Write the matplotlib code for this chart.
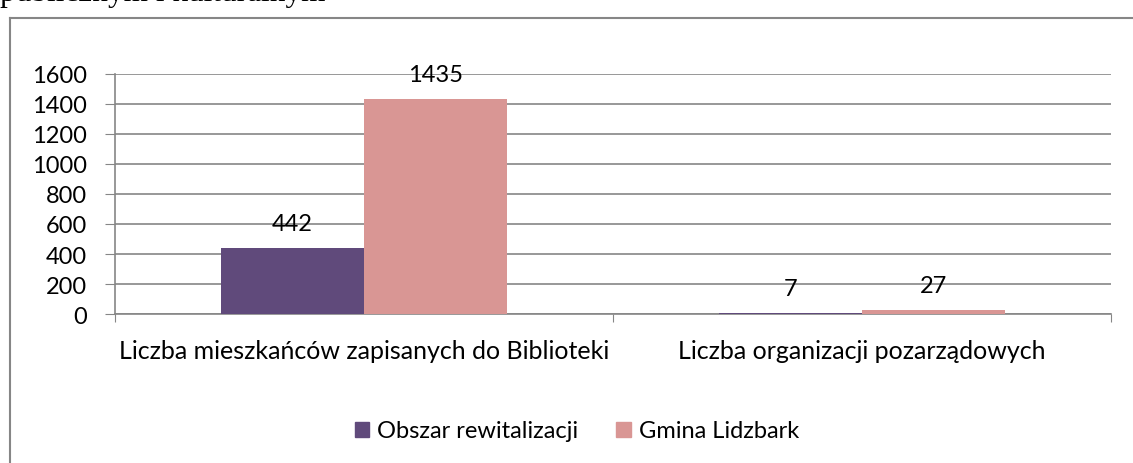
import matplotlib
matplotlib.use("Agg")
import matplotlib.pyplot as plt
from matplotlib.lines import Line2D
from matplotlib.patches import Patch
import numpy as np

categories = ["Liczba mieszkańców zapisanych do Biblioteki", "Liczba organizacji pozarządowych"]
series_names = ["Obszar rewitalizacji", "Gmina Lidzbark"]
obszar = [442, 7]
gmina = [1435, 27]
yticks = [0, 200, 400, 600, 800, 1000, 1200, 1400, 1600]

colors = ["#604A7B", "#D99694"]
grid_c = "#868686"
plt.rcParams['font.family'] = ['Lato', 'DejaVu Sans']
FS = 17

W, H = 1133, 464
fig = plt.figure(figsize=(W/100, H/100), dpi=100)

# clipped heading text from the document above the chart
fig.text(0/W, 1 - 0.5/H, "publicznym i kulturalnym", family=['Liberation Serif'], fontsize=22.5,
         va='baseline', ha='left', color='black')

# chart frame
fig.add_artist(Line2D([10/W, 10/W], [0, 1 - 19/H], color=grid_c, lw=1.5, transform=fig.transFigure))
fig.add_artist(Line2D([10/W, 1], [1 - 19/H, 1 - 19/H], color=grid_c, lw=1.5, transform=fig.transFigure))

ax = fig.add_axes([115/W, 1 - 315/H, (1111 - 115)/W, (315 - 75)/H])
x = np.arange(len(categories))
bw = 0.287
b1 = ax.bar(x - bw/2, obszar, bw, color=colors[0], zorder=3)
b2 = ax.bar(x + bw/2, gmina, bw, color=colors[1], zorder=3)

for bars, vals in ((b1, obszar), (b2, gmina)):
    for r, v in zip(bars, vals):
        ax.annotate(str(v), (r.get_x() + r.get_width()/2, v), xytext=(0, 10),
                    textcoords='offset points', ha='center', va='bottom', fontsize=FS, zorder=4)

ax.set_xlim(-0.5, 1.5)
ax.set_ylim(0, 1600)
ax.set_yticks(yticks)
ax.set_yticklabels([str(t) for t in yticks], fontsize=FS)
ax.yaxis.grid(True, color=grid_c, lw=1.2, zorder=0)
ax.set_axisbelow(True)
ax.set_xticks([-0.5, 0.5, 1.5])
ax.set_xticklabels([])
ax.tick_params(axis='x', length=6, color=grid_c, direction='out')
ax.tick_params(axis='y', length=7, color=grid_c, direction='out', pad=13)
for s in ['top', 'right']:
    ax.spines[s].set_visible(False)
for s in ['left', 'bottom']:
    ax.spines[s].set_color(grid_c)
    ax.spines[s].set_linewidth(1.2)
for xi, c in zip(x, categories):
    ax.text(xi, -0.105, c, transform=ax.get_xaxis_transform(), ha='center', va='top', fontsize=18)

handles = [Patch(color=colors[0]), Patch(color=colors[1])]
fig.legend(handles, series_names, loc='center', bbox_to_anchor=(577/W, 1 - 432/H), ncol=2,
           frameon=False, fontsize=FS, handlelength=0.62, handleheight=0.62, handletextpad=0.35,
           columnspacing=1.6)

fig.savefig("out.png", dpi=100)
